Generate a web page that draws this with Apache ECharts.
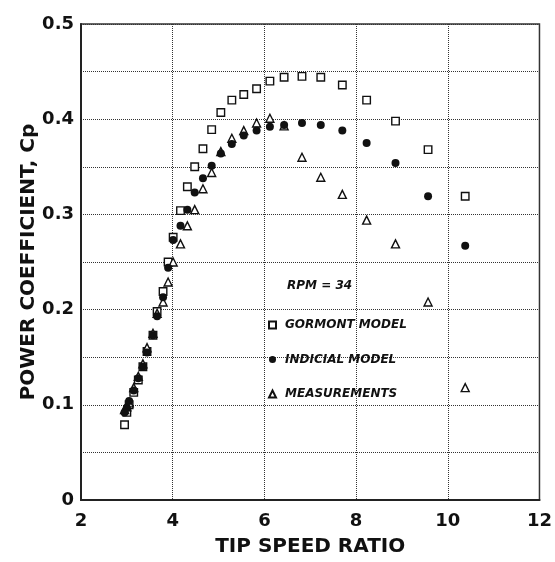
<!DOCTYPE html>
<html>
<head>
<meta charset="utf-8">
<script src="https://cdn.jsdelivr.net/npm/echarts@6/dist/echarts.min.js"></script>
<style>html,body{margin:0;padding:0;background:#fff}#c{width:555px;height:562px}</style>
</head>
<body>
<div id="c"></div>
<script>
const tsr = [2.95, 3.00, 3.05, 3.15, 3.25, 3.35, 3.44, 3.57, 3.66, 3.79, 3.90, 4.01, 4.17, 4.32, 4.48, 4.66, 4.85, 5.05, 5.29, 5.55, 5.83, 6.12, 6.43, 6.82, 7.23, 7.70, 8.23, 8.86, 9.57, 10.38];
const gormont = [0.079, 0.092, 0.100, 0.113, 0.126, 0.140, 0.156, 0.173, 0.198, 0.219, 0.250, 0.276, 0.304, 0.329, 0.350, 0.369, 0.389, 0.407, 0.420, 0.426, 0.432, 0.440, 0.444, 0.445, 0.444, 0.436, 0.420, 0.398, 0.368, 0.319];
const indicial = [0.092, 0.097, 0.104, 0.115, 0.128, 0.140, 0.155, 0.173, 0.193, 0.213, 0.244, 0.273, 0.288, 0.305, 0.323, 0.338, 0.351, 0.364, 0.374, 0.383, 0.388, 0.392, 0.394, 0.396, 0.394, 0.388, 0.375, 0.354, 0.319, 0.267];
const measured = [0.095, 0.098, 0.102, 0.118, 0.130, 0.143, 0.160, 0.175, 0.196, 0.208, 0.229, 0.250, 0.269, 0.288, 0.305, 0.327, 0.344, 0.366, 0.380, 0.388, 0.396, 0.401, 0.393, 0.360, 0.339, 0.321, 0.294, 0.269, 0.208, 0.118];
const seriesNames = ['GORMONT MODEL', 'INDICIAL MODEL', 'MEASUREMENTS'];
const annotation = 'RPM = 34';
const xTitle = 'TIP SPEED RATIO';
const yTitle = 'POWER COEFFICIENT, Cp';

const pairs = ys => tsr.map((x, i) => [x, ys[i]]);
const F = 'DejaVu Sans';
const chart = echarts.init(document.getElementById('c'), null, {renderer: 'canvas'});
chart.setOption({
  backgroundColor: '#fff',
  animation: false,
  title: {
    text: annotation, left: 282, top: 275,
    textStyle: {fontFamily: F, fontSize: 12, fontWeight: 'bold', fontStyle: 'italic', color: '#111'}
  },
  legend: {
    orient: 'vertical', left: 263, top: 313,
    itemWidth: 7, itemHeight: 7, itemGap: 20.5,
    data: seriesNames,
    textStyle: {fontFamily: F, fontSize: 12, fontWeight: 'bold', fontStyle: 'italic', color: '#111', lineHeight: 14, padding: [0, 0, 0, 4]}
  },
  grid: {left: 81, right: 15, top: 24, bottom: 61, show: true, borderColor: '#333', borderWidth: 1.5, backgroundColor: 'transparent'},
  xAxis: {
    type: 'value', min: 2, max: 12, interval: 2,
    name: xTitle, nameLocation: 'middle', nameGap: 37,
    nameTextStyle: {fontFamily: F, fontSize: 20, fontWeight: 'bold', color: '#111'},
    axisLine: {show: true, lineStyle: {color: '#222', width: 2}},
    axisTick: {show: false},
    axisLabel: {fontFamily: F, fontSize: 18, fontWeight: 'bold', color: '#111', margin: 12},
    splitLine: {show: true, lineStyle: {type: 'dotted', color: '#333', width: 1}}
  },
  yAxis: {
    type: 'value', min: 0, max: 0.5, interval: 0.05,
    name: yTitle, nameLocation: 'middle', nameGap: 42, nameMoveOverlap: false,
    nameTextStyle: {fontFamily: F, fontSize: 20, fontWeight: 'bold', color: '#111'},
    axisLine: {show: true, lineStyle: {color: '#222', width: 2}},
    axisTick: {show: false},
    axisLabel: {
      fontFamily: F, fontSize: 18, fontWeight: 'bold', color: '#111', margin: 7,
      formatter: v => { const k = Math.round(v * 100); if (k % 10 !== 0) return ''; return k === 0 ? '0' : (k / 100).toFixed(1); }
    },
    splitLine: {show: true, lineStyle: {type: 'dotted', color: '#333', width: 1}}
  },
  series: [
    {name: seriesNames[0], type: 'scatter', data: pairs(gormont), symbol: 'rect', symbolSize: 7.5,
     itemStyle: {color: '#fff', borderColor: '#111', borderWidth: 1.4, opacity: 1}, z: 2},
    {name: seriesNames[2], type: 'scatter', data: pairs(measured), symbol: 'triangle', symbolSize: 8,
     itemStyle: {color: '#fff', borderColor: '#111', borderWidth: 1.4, opacity: 1}, z: 3},
    {name: seriesNames[1], type: 'scatter', data: pairs(indicial), symbol: 'circle', symbolSize: 8,
     itemStyle: {color: '#111', borderColor: '#111', borderWidth: 0, opacity: 1}, z: 4}
  ]
});
</script>
</body>
</html>
